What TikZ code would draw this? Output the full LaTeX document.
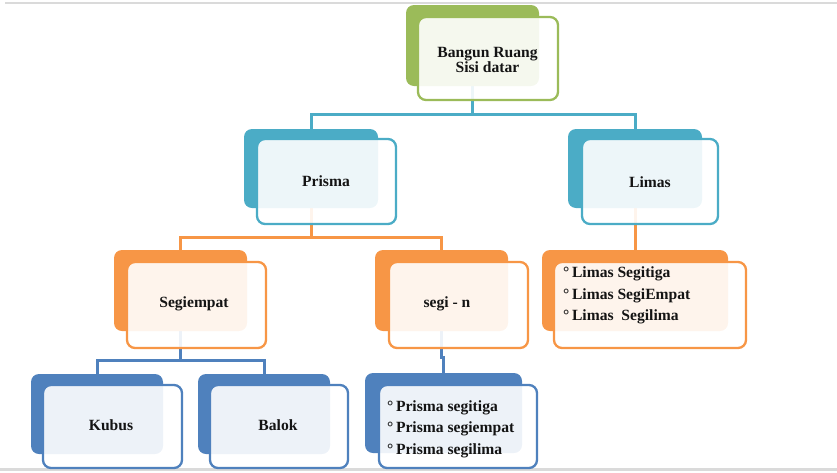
\documentclass[tikz,border=0pt]{standalone}
\usepackage{fontspec}
\setmainfont{Liberation Serif}
\usetikzlibrary{fit}
\definecolor{sgreen}{HTML}{9BBB59}
\definecolor{steal}{HTML}{4BACC6}
\definecolor{sorange}{HTML}{F79646}
\definecolor{sblue}{HTML}{4F81BD}
\definecolor{edgegray}{HTML}{DADADA}
\definecolor{ink}{HTML}{141414}
\pgfdeclarelayer{background}
\pgfsetlayers{background,main}
\begin{document}
\begin{tikzpicture}[x=1pt,y=-1pt,
  backbox/.style={fill=#1, draw=none, rounded corners=8pt, inner sep=0pt},
  frontbox/.style={draw=#1, line width=2.3pt, fill=white, fill opacity=0.9,
    rounded corners=8pt, inner sep=0pt},
  label/.style={align=center, inner sep=0pt, text=ink,
    font=\fontsize{15.6}{15.5}\selectfont\bfseries},
  items/.style={anchor=west, align=left, inner sep=0pt, text=ink,
    font=\fontsize{15.6}{21.5}\selectfont\bfseries},
  conn/.style={draw=#1, line width=3pt}]
\useasboundingbox (0,0) rectangle (837,472);
% page rules at top and bottom
\draw[edgegray, line width=2pt] (5,3) -- (837,3);
\draw[edgegray, line width=2.5pt] (0,469.5) -- (837,469.5);

% root
\node[backbox=sgreen, fit={(406,5)(539,86)}] (root-back) {};
\node[frontbox=sgreen, fit={(418,17)(558,100)}] (root) {};
\node[label] (root-text) at (487.5,60) {Bangun Ruang\\Sisi datar};

% second level
\node[backbox=steal, fit={(244,129)(378,208)}] (prisma-back) {};
\node[frontbox=steal, fit={(257,139)(396,224)}] (prisma) {};
\node[label] (prisma-text) at (326,181.5) {Prisma};
\node[backbox=steal, fit={(568,129)(702,208)}] (limas-back) {};
\node[frontbox=steal, fit={(582,139)(718,224)}] (limas) {};
\node[label] (limas-text) at (650,182) {Limas};

% third level
\node[backbox=sorange, fit={(114,250)(247,331)}] (segiempat-back) {};
\node[frontbox=sorange, fit={(127,262)(266,348)}] (segiempat) {};
\node[label] (segiempat-text) at (194,303.5) {Segiempat};
\node[backbox=sorange, fit={(375,250)(508,331)}] (segin-back) {};
\node[frontbox=sorange, fit={(389,262)(528,348)}] (segin) {};
\node[label] (segin-text) at (447,303.5) {segi - n};
\node[backbox=sorange, fit={(542,250)(728,331)}] (limaslist-back) {};
\node[frontbox=sorange, fit={(554,262)(746,348)}] (limaslist) {};
\node[items] (limas-items) at (563,295.5)
  {°\,Limas Segitiga\\°\,Limas SegiEmpat\\°\,Limas\ \ Segilima};

% fourth level
\node[backbox=sblue, fit={(31,374)(163,454)}] (kubus-back) {};
\node[frontbox=sblue, fit={(43,385)(182,468)}] (kubus) {};
\node[label] (kubus-text) at (111,425.5) {Kubus};
\node[backbox=sblue, fit={(198,374)(330,454)}] (balok-back) {};
\node[frontbox=sblue, fit={(210,385)(348,468)}] (balok) {};
\node[label] (balok-text) at (278,425.5) {Balok};
\node[backbox=sblue, fit={(365,373)(522,453)}] (prismalist-back) {};
\node[frontbox=sblue, fit={(379,385)(537,468)}] (prismalist) {};
\node[items] (prisma-items) at (387,429)
  {°\,Prisma segitiga\\°\,Prisma segiempat\\°\,Prisma segilima};

% connectors, behind the boxes
\coordinate (bus1) at (0,114);
\coordinate (bus2) at (0,237);
\coordinate (bus3) at (0,360);
\coordinate (bus4) at (0,357);
\begin{pgfonlayer}{background}
  \draw[conn=steal] (root-back.south) -- (root-back.south |- bus1);
  \draw[conn=steal] (prisma-back.north) -- (prisma-back.north |- bus1)
    -- (limas-back.north |- bus1) -- (limas-back.north);
  \draw[conn=sorange] (prisma-back.south) -- (prisma-back.south |- bus2);
  \draw[conn=sorange] (segiempat-back.north) -- (segiempat-back.north |- bus2)
    -- (segin-back.north |- bus2) -- (segin-back.north);
  \draw[conn=sorange] (limas-back.south) -- (limaslist-back.north);
  \draw[conn=sblue] (segiempat-back.south) -- (segiempat-back.south |- bus3);
  \draw[conn=sblue] (kubus-back.north) -- (kubus-back.north |- bus3)
    -- (balok-back.north |- bus3) -- (balok-back.north);
  \draw[conn=sblue] (segin-back.south) -- (segin-back.south |- bus4)
    -- (prismalist-back.north |- bus4) -- (prismalist-back.north);
\end{pgfonlayer}
\end{tikzpicture}
\end{document}
